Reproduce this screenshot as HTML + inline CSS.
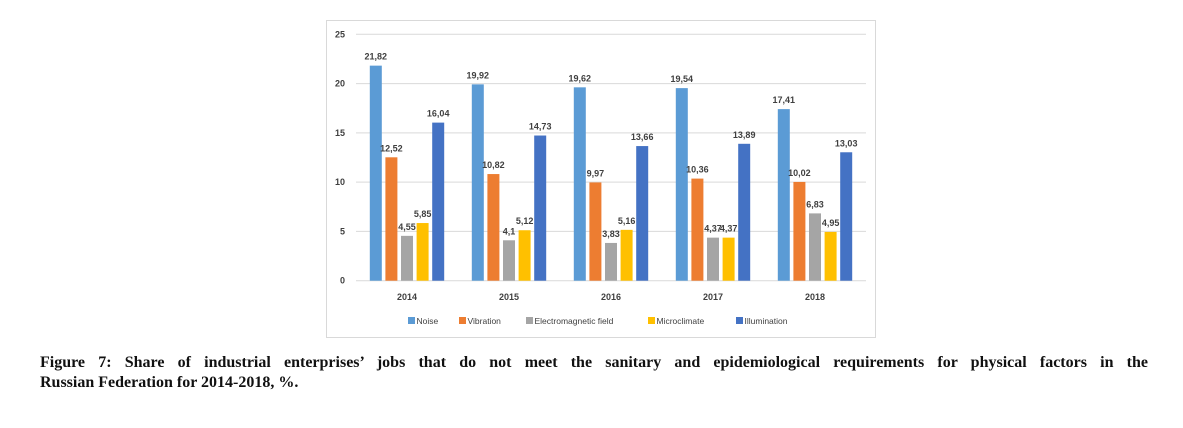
<!DOCTYPE html>
<html><head><meta charset="utf-8"><style>
body{margin:0;width:1183px;height:428px;background:#fff;position:relative;overflow:hidden;font-family:"Liberation Sans",sans-serif}
#frame{position:absolute;left:326px;top:20px;width:550px;height:318px;border:1px solid #d9d9d9;box-sizing:border-box}
#caption{position:absolute;left:40px;top:353px;width:1108px;font-family:"Liberation Serif",serif;font-weight:bold;font-size:16px;line-height:20px;color:#111}
#caption .l1{display:block;text-align:justify;text-align-last:justify;white-space:nowrap}
svg text{font-family:"Liberation Sans",sans-serif}
</style></head><body>
<div id="frame"></div>
<svg id="chart" width="1183" height="345" style="position:absolute;left:0;top:0"></svg>
<div id="caption"><span class="l1">Figure 7: Share of industrial enterprises’ jobs that do not meet the sanitary and epidemiological requirements for physical factors in the</span>Russian Federation for 2014-2018, %.</div>
<script>
const years=["2014","2015","2016","2017","2018"];
const seriesNames=["Noise","Vibration","Electromagnetic field","Microclimate","Illumination"];
const noise=[21.82,19.92,19.62,19.54,17.41];
const vibration=[12.52,10.82,9.97,10.36,10.02];
const emf=[4.55,4.1,3.83,4.37,6.83];
const microclimate=[5.85,5.12,5.16,4.37,4.95];
const illumination=[16.04,14.73,13.66,13.89,13.03];
const yTicks=[0,5,10,15,20,25];
const colors=["#5b9bd5","#ed7d31","#a5a5a5","#ffc000","#4472c4"];
const series=[noise,vibration,emf,microclimate,illumination];
const NS="http://www.w3.org/2000/svg";
const svg=document.getElementById('chart');
const x0=356,x1=866,yBase=280.7,yTop=34.3,yMax=25;
const y=v=>yBase-(v/yMax)*(yBase-yTop);
const gw=(x1-x0)/years.length;
function mk(t,a){const e=document.createElementNS(NS,t);for(const k in a)e.setAttribute(k,a[k]);svg.appendChild(e);return e;}
yTicks.forEach(t=>{
  const l=mk('line',{x1:x0,x2:x1,y1:y(t),y2:y(t),stroke:'#d9d9d9','stroke-width':1});
  
  
  const tx=mk('text',{x:345,y:y(t)+3,'text-anchor':'end','font-size':9,fill:'#404040','font-weight':'bold'});
  tx.textContent=t;
  
  
});
const bw=12,step=15.6;
years.forEach((yr,i)=>{
  const c=x0+gw*(i+0.5);
  series.forEach((s,j)=>{
    const xx=c+(j-2)*step-bw/2;
    const r=mk('rect',{x:xx,y:y(s[i]),width:bw,height:yBase-y(s[i]),fill:colors[j]});
    
    
    const lb=mk('text',{x:xx+bw/2,y:y(s[i])-6,'text-anchor':'middle','font-size':9,fill:'#404040','font-weight':'bold'});
    lb.textContent=String(s[i]).replace('.',',');
    
    
  });
  const xt=mk('text',{x:c,y:300,'text-anchor':'middle','font-size':9,fill:'#404040','font-weight':'bold'});
  xt.textContent=yr;
  
  
});
const legX=[408,459,526,648,736];
seriesNames.forEach((n,j)=>{
  const r=mk('rect',{x:legX[j],y:317,width:7,height:7,fill:colors[j]});
  
  
  const t=mk('text',{x:legX[j]+8.5,y:324,'font-size':8.5,fill:'#404040'});
  t.textContent=n;
  
  
});
</script>
</body></html>
